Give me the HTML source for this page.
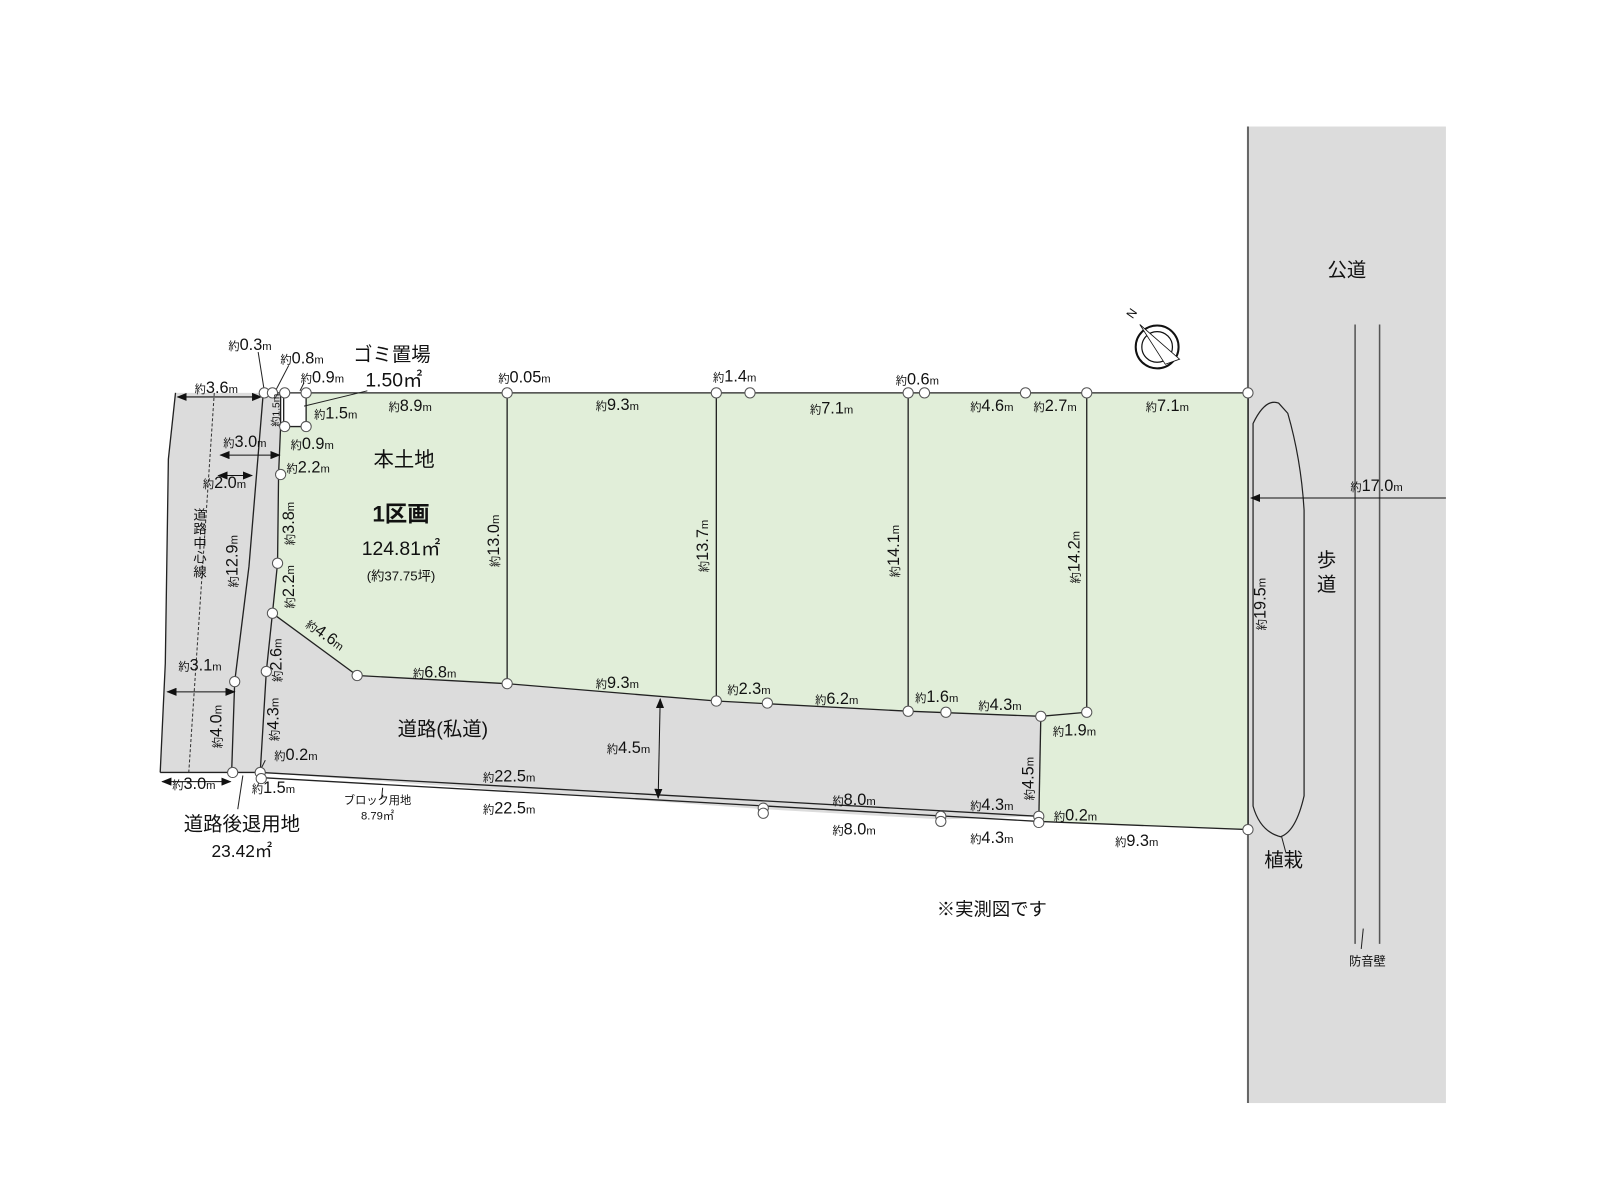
<!DOCTYPE html>
<html><head><meta charset="utf-8"><style>
html,body{margin:0;padding:0;background:#fff;}
svg{display:block;}
text{font-family:"Liberation Sans","Noto Sans CJK JP",sans-serif;fill:#111;}
.s{font-size:11px;}
</style></head><body>
<svg width="1600" height="1200" viewBox="0 0 1568 1176" xmlns="http://www.w3.org/2000/svg">
<defs>
<marker id="ah" markerWidth="10" markerHeight="8" refX="9" refY="4" orient="auto-start-reverse" markerUnits="userSpaceOnUse"><path d="M0,0 L10,4 L0,8 z" fill="#111"/></marker>
</defs>
<rect x="1223" y="124" width="194" height="957" fill="#dcdcdc"/>
<line x1="1223" y1="124" x2="1223" y2="1081" stroke="#666" stroke-width="2"/>
<line x1="1328" y1="318" x2="1328" y2="925" stroke="#555" stroke-width="1.5"/>
<line x1="1352" y1="318" x2="1352" y2="925" stroke="#555" stroke-width="1.5"/>
<path d="M1228,415 Q1240,390 1253,395 L1262,405 Q1275,450 1278,500 L1278,780 Q1270,815 1255,820 Q1235,815 1228,790 Z" fill="none" stroke="#222" stroke-width="1.2"/>
<line x1="1256" y1="820" x2="1260" y2="835" stroke="#222"/>
<line x1="1336" y1="910" x2="1334" y2="930" stroke="#222"/>
<line x1="1417" y1="488" x2="1226" y2="488" stroke="#111" stroke-width="1" marker-end="url(#ah)"/>

<polygon points="172,385 275,385 275,418 273,465 272,552 267,601 350,662 497,670 702,687 890,697 1020,702 1018,800 922,803 748,793 255,757 157,757 162,650 165,450" fill="#dcdcdc"/>
<polygon points="300,385 1223,385 1223,813 1018,805 1020,702 1065,698 1020,702 890,697 702,687 497,670 350,662 267,601 272,552 273,465 275,418 300,418" fill="#e1eed9"/>
<rect x="279" y="386" width="20" height="31" fill="#fff"/>

<g stroke="#222" stroke-width="1.3" fill="none">
<polyline points="258,385 1223,385 1223,813 1018,805"/>
<polyline points="275,385 275,418 273,465 272,552 267,601 350,662 497,670 702,687 890,697 1020,702 1065,698"/>
<polyline points="267,601 261,658 255,757"/>
<line x1="1020" y1="702" x2="1018" y2="805"/>
<line x1="497" y1="385" x2="497" y2="670"/>
<line x1="702" y1="385" x2="702" y2="687"/>
<line x1="890" y1="385" x2="890" y2="697"/>
<line x1="1065" y1="385" x2="1065" y2="698"/>
<line x1="255" y1="757" x2="1018" y2="800"/>
<line x1="255" y1="762" x2="1018" y2="805"/>
<polyline points="258,385 244,555 230,668 227,757"/>
<polyline points="172,385 165,450 162,650 157,757"/>
<polyline points="278,385 278,418 300,418 300,385"/>
<line x1="157" y1="757" x2="255" y2="757"/>
</g>
<line x1="210" y1="385" x2="185" y2="757" stroke="#333" stroke-dasharray="3,2"/>
<g stroke="#222" stroke-width="1">
<line x1="253" y1="345" x2="259" y2="383"/>
<line x1="283" y1="358" x2="270" y2="383"/>
<line x1="298" y1="375" x2="294" y2="383"/>
<line x1="360" y1="383" x2="298" y2="398"/>
<line x1="260" y1="745" x2="254" y2="757"/>
<line x1="238" y1="760" x2="233" y2="793"/>
<line x1="375" y1="772" x2="374" y2="783"/>
</g>
<g stroke="#111" stroke-width="1">
<line x1="174" y1="389" x2="256" y2="389" marker-start="url(#ah)" marker-end="url(#ah)"/>
<line x1="216" y1="446" x2="274" y2="446" marker-start="url(#ah)" marker-end="url(#ah)"/>
<line x1="214" y1="466" x2="247" y2="466" marker-start="url(#ah)" marker-end="url(#ah)"/>
<line x1="164" y1="678" x2="230" y2="678" marker-start="url(#ah)" marker-end="url(#ah)"/>
<line x1="159" y1="766" x2="226" y2="766" marker-start="url(#ah)" marker-end="url(#ah)"/>
<line x1="647" y1="685" x2="645" y2="782" marker-start="url(#ah)" marker-end="url(#ah)"/>
</g>
<g fill="#fff" stroke="#555" stroke-width="1">
<circle cx="259" cy="385" r="5"/><circle cx="267" cy="385" r="5"/><circle cx="279" cy="385" r="5"/><circle cx="300" cy="385" r="5"/>
<circle cx="279" cy="418" r="5"/><circle cx="300" cy="418" r="5"/>
<circle cx="497" cy="385" r="5"/><circle cx="702" cy="385" r="5"/><circle cx="735" cy="385" r="5"/>
<circle cx="890" cy="385" r="5"/><circle cx="906" cy="385" r="5"/><circle cx="1005" cy="385" r="5"/><circle cx="1065" cy="385" r="5"/><circle cx="1223" cy="385" r="5"/>
<circle cx="275" cy="465" r="5"/><circle cx="272" cy="552" r="5"/><circle cx="267" cy="601" r="5"/><circle cx="261" cy="658" r="5"/>
<circle cx="350" cy="662" r="5"/><circle cx="497" cy="670" r="5"/><circle cx="702" cy="687" r="5"/><circle cx="752" cy="689" r="5"/>
<circle cx="890" cy="697" r="5"/><circle cx="927" cy="698" r="5"/><circle cx="1020" cy="702" r="5"/><circle cx="1065" cy="698" r="5"/>
<circle cx="1018" cy="800" r="5"/><circle cx="1018" cy="806" r="5"/><circle cx="922" cy="800" r="5"/><circle cx="922" cy="805" r="5"/>
<circle cx="748" cy="792" r="5"/><circle cx="748" cy="797" r="5"/><circle cx="255" cy="757" r="5"/><circle cx="256" cy="763" r="5"/>
<circle cx="230" cy="668" r="5"/><circle cx="228" cy="757" r="5"/><circle cx="1223" cy="813" r="5"/>
</g>
<g transform="translate(1134,340)">
<circle r="21" fill="#fff" stroke="#111" stroke-width="2"/>
<circle r="15" fill="none" stroke="#111" stroke-width="1.2"/>
<path d="M-17,-22 L8,17 L2,-2 Z" fill="#111"/>
<path d="M-17,-22 L8,17 L22,12 Z" fill="#fff" stroke="#111" stroke-width="0.8"/>
<text x="-24" y="-27" font-size="12" transform="rotate(-55 -24 -27)">N</text>
</g>

<g font-size="16">
<text x="245" y="343" text-anchor="middle"><tspan class="s">約</tspan>0.3<tspan class="s">m</tspan></text>
<text x="296" y="356" text-anchor="middle"><tspan class="s">約</tspan>0.8<tspan class="s">m</tspan></text>
<text x="316" y="375" text-anchor="middle"><tspan class="s">約</tspan>0.9<tspan class="s">m</tspan></text>
<text x="384" y="354" text-anchor="middle" font-size="19">ゴミ置場</text>
<text x="386" y="379" text-anchor="middle" font-size="19">1.50㎡</text>
<text x="212" y="385" text-anchor="middle"><tspan class="s">約</tspan>3.6<tspan class="s">m</tspan></text>
<text x="274" y="402" text-anchor="middle" font-size="10" transform="rotate(-90 274 402)">約1.5m</text>
<text x="329" y="410" text-anchor="middle"><tspan class="s">約</tspan>1.5<tspan class="s">m</tspan></text>
<text x="402" y="403" text-anchor="middle"><tspan class="s">約</tspan>8.9<tspan class="s">m</tspan></text>
<text x="306" y="440" text-anchor="middle"><tspan class="s">約</tspan>0.9<tspan class="s">m</tspan></text>
<text x="240" y="438" text-anchor="middle"><tspan class="s">約</tspan>3.0<tspan class="s">m</tspan></text>
<text x="220" y="478" text-anchor="middle"><tspan class="s">約</tspan>2.0<tspan class="s">m</tspan></text>
<text x="302" y="463" text-anchor="middle"><tspan class="s">約</tspan>2.2<tspan class="s">m</tspan></text>
<text x="396" y="457" text-anchor="middle" font-size="20">本土地</text>
<text x="393" y="511" text-anchor="middle" font-size="22" font-weight="bold">1区画</text>
<text x="393" y="544" text-anchor="middle" font-size="19">124.81㎡</text>
<text x="393" y="569" text-anchor="middle" font-size="13">(約37.75坪)</text>
<text x="288" y="513" text-anchor="middle" transform="rotate(-90 288 513)"><tspan class="s">約</tspan>3.8<tspan class="s">m</tspan></text>
<text x="288" y="575" text-anchor="middle" transform="rotate(-90 288 575)"><tspan class="s">約</tspan>2.2<tspan class="s">m</tspan></text>
<text x="316" y="626" text-anchor="middle" transform="rotate(35 316 626)"><tspan class="s">約</tspan>4.6<tspan class="s">m</tspan></text>
<text x="276" y="647" text-anchor="middle" transform="rotate(-90 276 647)"><tspan class="s">約</tspan>2.6<tspan class="s">m</tspan></text>
<text x="273" y="705" text-anchor="middle" transform="rotate(-90 273 705)"><tspan class="s">約</tspan>4.3<tspan class="s">m</tspan></text>
<text x="290" y="745" text-anchor="middle"><tspan class="s">約</tspan>0.2<tspan class="s">m</tspan></text>
<text x="426" y="664" text-anchor="middle"><tspan class="s">約</tspan>6.8<tspan class="s">m</tspan></text>
<text x="489" y="530" text-anchor="middle" transform="rotate(-90 489 530)"><tspan class="s">約</tspan>13.0<tspan class="s">m</tspan></text>
<text x="514" y="375" text-anchor="middle"><tspan class="s">約</tspan>0.05<tspan class="s">m</tspan></text>
<text x="605" y="402" text-anchor="middle"><tspan class="s">約</tspan>9.3<tspan class="s">m</tspan></text>
<text x="720" y="374" text-anchor="middle"><tspan class="s">約</tspan>1.4<tspan class="s">m</tspan></text>
<text x="605" y="674" text-anchor="middle"><tspan class="s">約</tspan>9.3<tspan class="s">m</tspan></text>
<text x="694" y="535" text-anchor="middle" transform="rotate(-90 694 535)"><tspan class="s">約</tspan>13.7<tspan class="s">m</tspan></text>
<text x="815" y="405" text-anchor="middle"><tspan class="s">約</tspan>7.1<tspan class="s">m</tspan></text>
<text x="899" y="377" text-anchor="middle"><tspan class="s">約</tspan>0.6<tspan class="s">m</tspan></text>
<text x="881" y="540" text-anchor="middle" transform="rotate(-90 881 540)"><tspan class="s">約</tspan>14.1<tspan class="s">m</tspan></text>
<text x="972" y="403" text-anchor="middle"><tspan class="s">約</tspan>4.6<tspan class="s">m</tspan></text>
<text x="1034" y="403" text-anchor="middle"><tspan class="s">約</tspan>2.7<tspan class="s">m</tspan></text>
<text x="1144" y="403" text-anchor="middle"><tspan class="s">約</tspan>7.1<tspan class="s">m</tspan></text>
<text x="1058" y="546" text-anchor="middle" transform="rotate(-90 1058 546)"><tspan class="s">約</tspan>14.2<tspan class="s">m</tspan></text>
<text x="734" y="680" text-anchor="middle"><tspan class="s">約</tspan>2.3<tspan class="s">m</tspan></text>
<text x="820" y="690" text-anchor="middle"><tspan class="s">約</tspan>6.2<tspan class="s">m</tspan></text>
<text x="918" y="688" text-anchor="middle"><tspan class="s">約</tspan>1.6<tspan class="s">m</tspan></text>
<text x="980" y="696" text-anchor="middle"><tspan class="s">約</tspan>4.3<tspan class="s">m</tspan></text>
<text x="1053" y="721" text-anchor="middle"><tspan class="s">約</tspan>1.9<tspan class="s">m</tspan></text>
<text x="1013" y="763" text-anchor="middle" transform="rotate(-90 1013 763)"><tspan class="s">約</tspan>4.5<tspan class="s">m</tspan></text>
<text x="616" y="738" text-anchor="middle"><tspan class="s">約</tspan>4.5<tspan class="s">m</tspan></text>
<text x="434" y="721" text-anchor="middle" font-size="19">道路(私道)</text>
<text x="499" y="766" text-anchor="middle"><tspan class="s">約</tspan>22.5<tspan class="s">m</tspan></text>
<text x="499" y="797" text-anchor="middle"><tspan class="s">約</tspan>22.5<tspan class="s">m</tspan></text>
<text x="370" y="788" text-anchor="middle" font-size="11">ブロック用地</text>
<text x="370" y="803" text-anchor="middle" font-size="11">8.79㎡</text>
<text x="837" y="789" text-anchor="middle"><tspan class="s">約</tspan>8.0<tspan class="s">m</tspan></text>
<text x="837" y="818" text-anchor="middle"><tspan class="s">約</tspan>8.0<tspan class="s">m</tspan></text>
<text x="972" y="794" text-anchor="middle"><tspan class="s">約</tspan>4.3<tspan class="s">m</tspan></text>
<text x="972" y="826" text-anchor="middle"><tspan class="s">約</tspan>4.3<tspan class="s">m</tspan></text>
<text x="1054" y="804" text-anchor="middle"><tspan class="s">約</tspan>0.2<tspan class="s">m</tspan></text>
<text x="1114" y="829" text-anchor="middle"><tspan class="s">約</tspan>9.3<tspan class="s">m</tspan></text>
<text x="196" y="657" text-anchor="middle"><tspan class="s">約</tspan>3.1<tspan class="s">m</tspan></text>
<text x="217" y="712" text-anchor="middle" transform="rotate(-90 217 712)"><tspan class="s">約</tspan>4.0<tspan class="s">m</tspan></text>
<text x="190" y="773" text-anchor="middle"><tspan class="s">約</tspan>3.0<tspan class="s">m</tspan></text>
<text x="268" y="777" text-anchor="middle"><tspan class="s">約</tspan>1.5<tspan class="s">m</tspan></text>
<text x="237" y="814" text-anchor="middle" font-size="19">道路後退用地</text>
<text x="237" y="840" text-anchor="middle" font-size="17">23.42㎡</text>
<text x="233" y="550" text-anchor="middle" transform="rotate(-90 233 550)"><tspan class="s">約</tspan>12.9<tspan class="s">m</tspan></text>
<text x="1349" y="481" text-anchor="middle"><tspan class="s">約</tspan>17.0<tspan class="s">m</tspan></text>
<text x="1240" y="592" text-anchor="middle" transform="rotate(-90 1240 592)"><tspan class="s">約</tspan>19.5<tspan class="s">m</tspan></text>
</g>
<g font-size="13" text-anchor="middle">
<text x="196" y="509">道</text><text x="196" y="523">路</text><text x="196" y="537">中</text><text x="196" y="551">心</text><text x="196" y="565">線</text>
</g>
<text x="1320" y="271" text-anchor="middle" font-size="19">公道</text>
<text x="1300" y="555" text-anchor="middle" font-size="19">歩</text>
<text x="1300" y="579" text-anchor="middle" font-size="19">道</text>
<text x="1258" y="849" text-anchor="middle" font-size="19">植栽</text>
<text x="1340" y="946" text-anchor="middle" font-size="12">防音壁</text>
<text x="972" y="897" text-anchor="middle" font-size="18">※実測図です</text>
</svg>
</body></html>
